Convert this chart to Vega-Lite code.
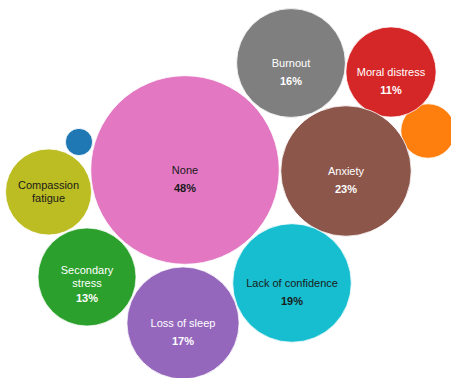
{
  "$schema": "https://vega.github.io/schema/vega-lite/v6.json",
  "width": 451,
  "height": 378,
  "autosize": {"type": "none"},
  "padding": 0,
  "background": "white",
  "config": {"view": {"stroke": null}},
  "data": {
    "values": [
      {"name": "Other", "lines": ["Other"], "value": 1, "cx": 79, "cy": 142},
      {"name": "Guilt", "lines": ["Guilt"], "value": 4, "cx": 428, "cy": 131},
      {"name": "Secondary stress", "lines": ["Secondary", "stress"], "value": 13, "cx": 87, "cy": 277},
      {"name": "Moral distress", "lines": ["Moral distress"], "value": 11, "cx": 391, "cy": 72},
      {"name": "Loss of sleep", "lines": ["Loss of sleep"], "value": 17, "cx": 183, "cy": 323},
      {"name": "Anxiety", "lines": ["Anxiety"], "value": 23, "cx": 346, "cy": 171},
      {"name": "None", "lines": ["None"], "value": 48, "cx": 185, "cy": 170},
      {"name": "Burnout", "lines": ["Burnout"], "value": 16, "cx": 291, "cy": 63},
      {"name": "Compassion fatigue", "lines": ["Compassion", "fatigue"], "value": 10, "cx": 48.5, "cy": 192},
      {"name": "Lack of confidence", "lines": ["Lack of confidence"], "value": 19, "cx": 292, "cy": 283}
    ]
  },
  "transform": [
    {"calculate": "length(datum.lines)", "as": "n"},
    {"calculate": "datum.cy + 0.5 - (datum.n - 1) * 7", "as": "nameY"},
    {"calculate": "datum.cy + (datum.n > 1 ? 22 : 18.5)", "as": "pctY"},
    {"calculate": "datum.value + '%'", "as": "pct"}
  ],
  "encoding": {
    "x": {"field": "cx", "type": "quantitative", "scale": {"domain": [0, 451], "nice": false, "zero": false}, "axis": null}
  },
  "layer": [
    {
      "mark": {"type": "point", "shape": "circle", "filled": true, "opacity": 1, "stroke": "white", "strokeWidth": 1, "strokeOpacity": 0.8},
      "encoding": {
        "y": {"field": "cy", "type": "quantitative", "scale": {"domain": [0, 378], "nice": false, "zero": false, "reverse": true}, "axis": null},
        "size": {"field": "value", "type": "quantitative", "scale": {"type": "linear", "domain": [0, 48], "range": [0, 35520], "zero": true}, "legend": null},
        "color": {
          "field": "name", "type": "nominal", "legend": null,
          "scale": {
            "domain": ["Other", "Guilt", "Secondary stress", "Moral distress", "Loss of sleep", "Anxiety", "None", "Burnout", "Compassion fatigue", "Lack of confidence"],
            "range": ["#1f77b4", "#ff7f0e", "#2ca02c", "#d62728", "#9467bd", "#8c564b", "#e377c2", "#7f7f7f", "#bcbd22", "#17becf"]
          }
        }
      }
    },
    {
      "transform": [{"filter": "datum.value >= 5"}],
      "mark": {"type": "text", "font": "Liberation Sans", "fontSize": 11, "lineHeight": 13.5, "baseline": "middle", "align": "center"},
      "encoding": {
        "y": {"field": "nameY", "type": "quantitative", "scale": {"domain": [0, 378], "nice": false, "zero": false, "reverse": true}, "axis": null},
        "text": {"field": "lines", "type": "nominal"},
        "color": {"condition": {"test": "indexof(['None', 'Compassion fatigue', 'Lack of confidence'], datum.name) >= 0", "value": "#1a1a1a"}, "value": "white"}
      }
    },
    {
      "transform": [{"filter": "datum.value >= 11"}],
      "mark": {"type": "text", "font": "Liberation Sans", "fontSize": 11, "fontWeight": "bold", "baseline": "middle", "align": "center"},
      "encoding": {
        "y": {"field": "pctY", "type": "quantitative", "scale": {"domain": [0, 378], "nice": false, "zero": false, "reverse": true}, "axis": null},
        "text": {"field": "pct", "type": "nominal"},
        "color": {"condition": {"test": "indexof(['None', 'Compassion fatigue', 'Lack of confidence'], datum.name) >= 0", "value": "#1a1a1a"}, "value": "white"}
      }
    }
  ]
}
